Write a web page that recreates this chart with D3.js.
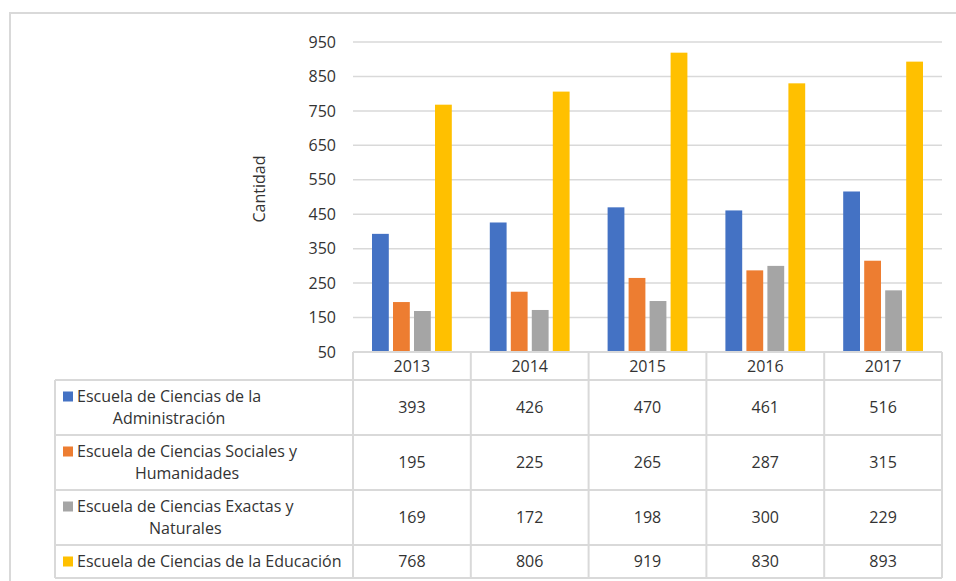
<!DOCTYPE html>
<html>
<head>
<meta charset="utf-8">
<script src="https://cdn.jsdelivr.net/npm/d3@7"></script>
<style>
  body { margin: 0; background: #fff; }
  text { font-family: "Open Sans", sans-serif; fill: #333; }
</style>
</head>
<body>
<div id="chart"></div>
<script>
var years = ["2013", "2014", "2015", "2016", "2017"];
var schools = [
  "Escuela de Ciencias de la Administración",
  "Escuela de Ciencias Sociales y Humanidades",
  "Escuela de Ciencias Exactas y Naturales",
  "Escuela de Ciencias de la Educación"
];
var administracion = [393, 426, 470, 461, 516];
var sociales = [195, 225, 265, 287, 315];
var exactas = [169, 172, 198, 300, 229];
var educacion = [768, 806, 919, 830, 893];
var colors = ["#4472C4", "#ED7D31", "#A5A5A5", "#FFC000"];
var yTicks = [50, 150, 250, 350, 450, 550, 650, 750, 850, 950];

var series = [administracion, sociales, exactas, educacion];

var width = 956, height = 581;
var plot = {left: 353, right: 942, top: 42, bottom: 352};
var rowY = [352, 380, 435, 490, 545, 578];   // table row borders
var tableLeft = 55;
var gridColor = "#D9D9D9";
var fontSize = "16px";

var svg = d3.select("#chart").append("svg")
    .attr("width", width)
    .attr("height", height);

// outer frame of the chart
svg.append("rect")
    .attr("x", 10).attr("y", 13)
    .attr("width", 990).attr("height", 620)
    .attr("fill", "none")
    .attr("stroke", gridColor)
    .attr("stroke-width", 2);

var x0 = d3.scaleBand()
    .domain(years)
    .range([plot.left, plot.right]);

var x1 = d3.scaleBand()
    .domain(d3.range(series.length))
    .range([19, x0.bandwidth() - 19])
    .paddingInner(0.2);

var y = d3.scaleLinear()
    .domain([50, 950])
    .range([plot.bottom, plot.top]);

// gridlines
svg.append("g")
  .selectAll("line")
  .data(yTicks.slice(1))
  .enter().append("line")
    .attr("x1", plot.left)
    .attr("x2", plot.right)
    .attr("y1", d => y(d))
    .attr("y2", d => y(d))
    .attr("stroke", gridColor)
    .attr("stroke-width", 1.5);

// y axis labels
var yAxis = d3.axisLeft(y)
    .tickValues(yTicks)
    .tickSize(0)
    .tickPadding(17);

svg.append("g")
    .attr("transform", "translate(" + plot.left + ",0)")
    .call(yAxis)
    .call(g => g.select(".domain").remove())
    .call(g => g.selectAll("text")
        .style("font-family", "'Open Sans', sans-serif")
        .style("font-size", fontSize)
        .attr("fill", "#333"));

svg.append("text")
    .attr("transform", "translate(265,189) rotate(-90)")
    .attr("text-anchor", "middle")
    .style("font-size", fontSize)
    .text("Cantidad");

// bars
var groups = svg.append("g")
  .selectAll("g")
  .data(series)
  .enter().append("g")
    .attr("fill", (d, i) => colors[i]);

groups.selectAll("rect")
  .data((d, i) => d.map((v, j) => ({s: i, year: years[j], value: v})))
  .enter().append("rect")
    .attr("x", d => x0(d.year) + x1(d.s))
    .attr("width", x1.bandwidth())
    .attr("y", d => y(d.value))
    .attr("height", d => y(50) - y(d.value));

// data table
var table = svg.append("g")
    .attr("stroke", gridColor)
    .attr("stroke-width", 2);

rowY.forEach(function(ry, i) {
  table.append("line")
      .attr("x1", i === 0 ? plot.left : tableLeft)
      .attr("x2", plot.right)
      .attr("y1", ry).attr("y2", ry);
});
table.append("line")
    .attr("x1", tableLeft).attr("x2", tableLeft)
    .attr("y1", rowY[1]).attr("y2", rowY[rowY.length - 1]);
years.forEach(function(yr) {
  table.append("line")
      .attr("x1", x0(yr)).attr("x2", x0(yr))
      .attr("y1", rowY[0]).attr("y2", rowY[rowY.length - 1]);
});
table.append("line")
    .attr("x1", plot.right).attr("x2", plot.right)
    .attr("y1", rowY[0]).attr("y2", rowY[rowY.length - 1]);

// header row: years
svg.append("g")
  .selectAll("text")
  .data(years)
  .enter().append("text")
    .attr("x", d => x0(d) + x0.bandwidth() / 2)
    .attr("y", (rowY[0] + rowY[1]) / 2)
    .attr("dy", "0.35em")
    .attr("text-anchor", "middle")
    .style("font-size", fontSize)
    .text(d => d);

// values
series.forEach(function(vals, i) {
  var cy = (rowY[i + 1] + rowY[i + 2]) / 2;
  svg.append("g")
    .selectAll("text")
    .data(vals)
    .enter().append("text")
      .attr("x", (d, j) => x0(years[j]) + x0.bandwidth() / 2)
      .attr("y", cy)
      .attr("dy", "0.35em")
      .attr("text-anchor", "middle")
      .style("font-size", fontSize)
      .text(d => d);
});

// legend labels (wrapped, lines centred on each other)
var labelLeft = 77, labelMax = 272, lineH = 22;
schools.forEach(function(name, i) {
  var top = rowY[i + 1], bot = rowY[i + 2];
  var g = svg.append("g");
  var probe = g.append("text").style("font-size", fontSize);
  var words = name.split(" "), lines = [], cur = "";
  words.forEach(function(w) {
    var test = cur ? cur + " " + w : w;
    probe.text(test);
    if (probe.node().getComputedTextLength() > labelMax && cur) {
      lines.push(cur);
      cur = w;
    } else {
      cur = test;
    }
  });
  lines.push(cur);
  probe.text(lines[0]);
  var w0 = probe.node().getComputedTextLength();
  probe.remove();
  var cx = labelLeft + w0 / 2;
  var firstY = (top + bot) / 2 - (lines.length - 1) * lineH / 2;
  lines.forEach(function(l, k) {
    g.append("text")
        .attr("x", cx)
        .attr("y", firstY + k * lineH)
        .attr("dy", "0.35em")
        .attr("text-anchor", "middle")
        .style("font-size", fontSize)
        .text(l);
  });
  g.append("rect")
      .attr("x", 63).attr("y", firstY - 5)
      .attr("width", 10).attr("height", 10)
      .attr("fill", colors[i]);
});
</script>
</body>
</html>
